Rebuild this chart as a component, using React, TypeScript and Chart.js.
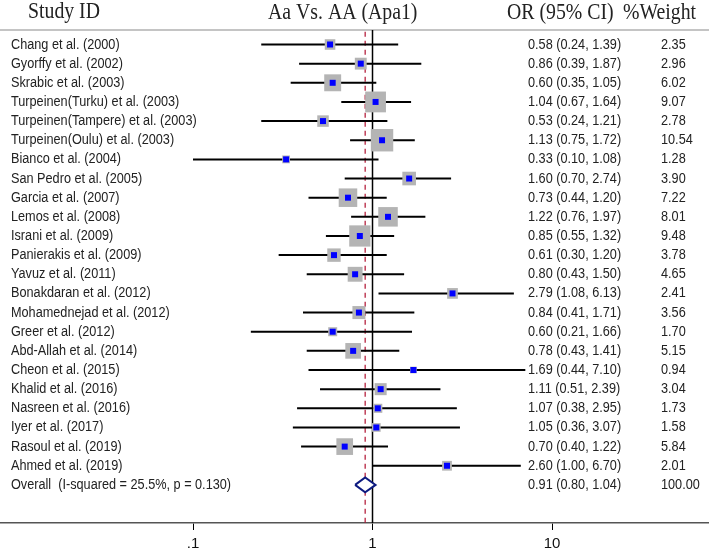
import React, { useEffect, useRef } from 'react';
import { Chart, registerables } from 'chart.js';

Chart.register(...registerables);

// ---------- data ----------
const studyLabels = [
  'Chang et al. (2000)',
  'Gyorffy et al. (2002)',
  'Skrabic et al. (2003)',
  'Turpeinen(Turku) et al. (2003)',
  'Turpeinen(Tampere) et al. (2003)',
  'Turpeinen(Oulu) et al. (2003)',
  'Bianco et al. (2004)',
  'San Pedro et al. (2005)',
  'Garcia et al. (2007)',
  'Lemos et al. (2008)',
  'Israni et al. (2009)',
  'Panierakis et al. (2009)',
  'Yavuz et al. (2011)',
  'Bonakdaran et al. (2012)',
  'Mohamednejad et al. (2012)',
  'Greer et al. (2012)',
  'Abd-Allah et al. (2014)',
  'Cheon et al. (2015)',
  'Khalid et al. (2016)',
  'Nasreen et al. (2016)',
  'Iyer et al. (2017)',
  'Rasoul et al. (2019)',
  'Ahmed et al. (2019)',
];
const oddsRatios = [0.58, 0.86, 0.60, 1.04, 0.53, 1.13, 0.33, 1.60, 0.73, 1.22, 0.85, 0.61, 0.80, 2.79, 0.84, 0.60, 0.78, 1.69, 1.11, 1.07, 1.05, 0.70, 2.60];
const lowerCI = [0.24, 0.39, 0.35, 0.67, 0.24, 0.75, 0.10, 0.70, 0.44, 0.76, 0.55, 0.30, 0.43, 1.08, 0.41, 0.21, 0.43, 0.44, 0.51, 0.38, 0.36, 0.40, 1.00];
const upperCI = [1.39, 1.87, 1.05, 1.64, 1.21, 1.72, 1.08, 2.74, 1.20, 1.97, 1.32, 1.20, 1.50, 6.13, 1.71, 1.66, 1.41, 7.10, 2.39, 2.95, 3.07, 1.22, 6.70];
const weights = [2.35, 2.96, 6.02, 9.07, 2.78, 10.54, 1.28, 3.90, 7.22, 8.01, 9.48, 3.78, 4.65, 2.41, 3.56, 1.70, 5.15, 0.94, 3.04, 1.73, 1.58, 5.84, 2.01];

const overallLabel = 'Overall  (I-squared = 25.5%, p = 0.130)';
const overallOR = 0.91;
const overallLower = 0.80;
const overallUpper = 1.04;
const overallWeight = 100.0;

const xTickValues = [0.1, 1, 10];
const xTickLabels = ['.1', '1', '10'];
const headerTitles = ['Study ID', 'Aa Vs. AA (Apa1)', 'OR (95% CI)', '%Weight'];

// ---------- layout ----------
const X_MIN = 0.008411;
const X_MAX = 74.9;
const Y_MIN = -2.324;
const Y_MAX = 24.99;
const HEADER_Y = -0.76;
const DIAMOND_HALF = 0.39;
const BODY_FONT = '12.7px "Liberation Sans", Arial, sans-serif';
const HEAD_FONT = '19.8px "Liberation Serif", "Times New Roman", serif';
const TEXT_COLOR = '#222222';

const textPlugin = {
  id: 'forestText',
  afterDatasetsDraw(chart: any) {
    const ctx = chart.ctx as CanvasRenderingContext2D;
    const ys = chart.scales.y;
    const put = (text: string, x: number, y: number, font: string, baseline: CanvasTextBaseline, sy: number) => {
      ctx.save();
      ctx.translate(x, y);
      ctx.scale(1, sy);
      ctx.font = font;
      ctx.textAlign = 'left';
      ctx.textBaseline = baseline;
      ctx.fillStyle = TEXT_COLOR;
      ctx.fillText(text, 0, 0);
      ctx.restore();
    };
    // headers
    put(headerTitles[0], 28, 18.3, HEAD_FONT, 'alphabetic', 1.13);
    put(headerTitles[1], 268, 19.3, HEAD_FONT, 'alphabetic', 1.13);
    put(headerTitles[2], 507, 19, HEAD_FONT, 'alphabetic', 1.13);
    put(headerTitles[3], 623, 19, HEAD_FONT, 'alphabetic', 1.13);
    // rows
    studyLabels.forEach((label, i) => {
      const py = ys.getPixelForValue(i);
      put(label, 11, py, BODY_FONT, 'middle', 1.15);
      put(`${oddsRatios[i].toFixed(2)} (${lowerCI[i].toFixed(2)}, ${upperCI[i].toFixed(2)})`, 528, py, BODY_FONT, 'middle', 1.15);
      put(weights[i].toFixed(2), 661, py, BODY_FONT, 'middle', 1.15);
    });
    const n = studyLabels.length;
    const oy = ys.getPixelForValue(n);
    put(overallLabel, 11, oy, BODY_FONT, 'middle', 1.15);
    put(`${overallOR.toFixed(2)} (${overallLower.toFixed(2)}, ${overallUpper.toFixed(2)})`, 528, oy, BODY_FONT, 'middle', 1.15);
    put(overallWeight.toFixed(2), 661, oy, BODY_FONT, 'middle', 1.15);
  },
};

export default function App() {
  const ref = useRef<HTMLCanvasElement | null>(null);

  useEffect(() => {
    if (!ref.current) return;
    const n = studyLabels.length;

    const whiskers: any[] = [];
    studyLabels.forEach((_, i) => {
      whiskers.push({ x: lowerCI[i], y: i });
      whiskers.push({ x: upperCI[i], y: i });
      whiskers.push({ x: upperCI[i], y: null });
    });
    const points = oddsRatios.map((v, i) => ({ x: v, y: i }));
    const boxRadii = weights.map((w) => (6.9 * Math.sqrt(w)) / Math.SQRT2);

    const chart = new Chart(ref.current, {
      type: 'line',
      data: {
        datasets: [
          {
            // overall diamond
            data: [
              { x: overallLower, y: n },
              { x: overallOR, y: n - DIAMOND_HALF },
              { x: overallUpper, y: n },
              { x: overallOR, y: n + DIAMOND_HALF },
              { x: overallLower, y: n },
            ],
            borderColor: '#0d1a80',
            borderWidth: 2,
            backgroundColor: '#ffffff',
            fill: 'shape',
            pointRadius: 0,
            borderJoinStyle: 'miter',
            order: 0,
          } as any,
          {
            // blue estimate markers
            data: points,
            showLine: false,
            pointStyle: 'rect',
            pointRadius: 4.24,
            pointBackgroundColor: '#0000ff',
            pointBorderWidth: 0,
            pointBorderColor: 'rgba(0,0,0,0)',
            order: 1,
          },
          {
            // weight boxes
            data: points,
            showLine: false,
            pointStyle: 'rect',
            pointRadius: boxRadii,
            pointBackgroundColor: '#b4b4b4',
            pointBorderWidth: 0,
            pointBorderColor: 'rgba(0,0,0,0)',
            order: 2,
          },
          {
            // confidence intervals
            data: whiskers,
            borderColor: '#000000',
            borderWidth: 2,
            pointRadius: 0,
            spanGaps: false,
            order: 3,
          },
          {
            // overall effect dashed line
            data: [
              { x: overallOR, y: HEADER_Y + 0.1 },
              { x: overallOR, y: Y_MAX },
            ],
            borderColor: '#b01030',
            borderWidth: 1.2,
            borderDash: [5, 4],
            pointRadius: 0,
            order: 4,
          },
          {
            // null line
            data: [
              { x: 1, y: HEADER_Y },
              { x: 1, y: Y_MAX },
            ],
            borderColor: '#000000',
            borderWidth: 1.5,
            pointRadius: 0,
            order: 5,
          },
          {
            // header rule
            data: [
              { x: X_MIN, y: HEADER_Y },
              { x: X_MAX, y: HEADER_Y },
            ],
            borderColor: '#b0b0b0',
            borderWidth: 1.5,
            pointRadius: 0,
            order: 6,
          },
        ],
      },
      options: {
        responsive: false,
        animation: false,
        events: [],
        layout: { padding: 0, autoPadding: false },
        plugins: {
          legend: { display: false },
          tooltip: { enabled: false },
          title: { display: false },
        },
        scales: {
          x: {
            type: 'logarithmic',
            min: X_MIN,
            max: X_MAX,
            bounds: 'data',
            position: 'bottom',
            afterBuildTicks: (scale: any) => {
              scale.ticks = xTickValues.map((v) => ({ value: v }));
            },
            afterFit: (scale: any) => {
              scale.height = 28;
            },
            grid: {
              display: true,
              drawOnChartArea: false,
              drawTicks: true,
              tickLength: 7,
              color: '#000000',
              lineWidth: 1,
            },
            border: { display: true, color: '#555555', width: 1.5 },
            ticks: {
              autoSkip: false,
              maxRotation: 0,
              padding: 5,
              color: '#111111',
              font: { family: '"Liberation Sans", Arial, sans-serif', size: 15 },
              callback: (_v: any, idx: number) => xTickLabels[idx],
            },
          },
          y: {
            type: 'linear',
            min: Y_MIN,
            max: Y_MAX,
            reverse: true,
            display: false,
          },
        },
      } as any,
      plugins: [textPlugin],
    });

    return () => chart.destroy();
  }, []);

  return (
    <div style={{ position: 'fixed', left: 0, top: 0, width: 709, height: 551, background: '#ffffff' }}>
      <canvas ref={ref} width={709} height={551} style={{ display: 'block' }} />
    </div>
  );
}
